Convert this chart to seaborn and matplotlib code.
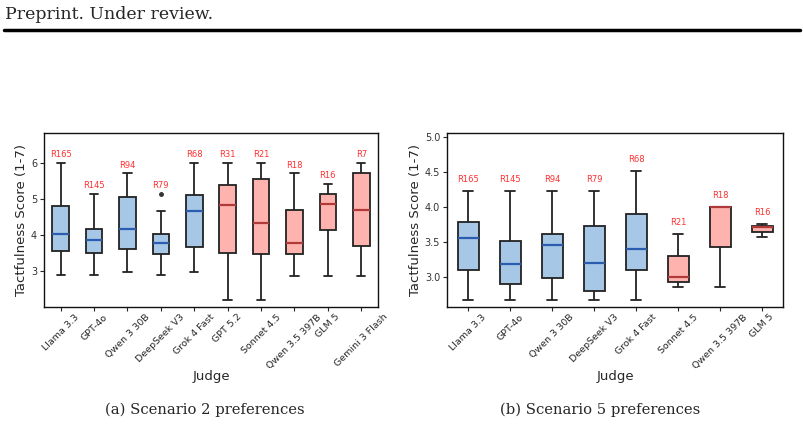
import pandas as pd
import matplotlib.pyplot as plt
import seaborn as sns
from matplotlib.lines import Line2D

# Scenario 2 (left panel)
judges_a = ['Llama 3.3', 'GPT-4o', 'Qwen 3 30B', 'DeepSeek V3', 'Grok 4 Fast',
            'GPT 5.2', 'Sonnet 4.5', 'Qwen 3.5 397B', 'GLM 5', 'Gemini 3 Flash']
group_a = ['open', 'open', 'open', 'open', 'open',
           'closed', 'closed', 'closed', 'closed', 'closed']
ranks_a = ['R165', 'R145', 'R94', 'R79', 'R68', 'R31', 'R21', 'R18', 'R16', 'R7']
wlo_a = [2.88, 2.88, 2.98, 2.88, 2.98, 2.20, 2.20, 2.85, 2.85, 2.85]
q1_a = [3.56, 3.49, 3.62, 3.46, 3.65, 3.49, 3.48, 3.48, 4.13, 3.69]
med_a = [4.03, 3.85, 4.15, 3.76, 4.65, 4.82, 4.32, 3.78, 4.86, 4.69]
q3_a = [4.81, 4.15, 5.06, 4.03, 5.09, 5.38, 5.56, 4.70, 5.13, 5.72]
whi_a = [6.00, 5.13, 5.70, 4.66, 6.00, 6.00, 6.00, 5.70, 5.42, 6.00]
outliers_a = {'DeepSeek V3': [5.13]}

# Scenario 5 (right panel)
judges_b = ['Llama 3.3', 'GPT-4o', 'Qwen 3 30B', 'DeepSeek V3', 'Grok 4 Fast',
            'Sonnet 4.5', 'Qwen 3.5 397B', 'GLM 5']
group_b = ['open', 'open', 'open', 'open', 'open', 'closed', 'closed', 'closed']
ranks_b = ['R165', 'R145', 'R94', 'R79', 'R68', 'R21', 'R18', 'R16']
wlo_b = [2.675, 2.675, 2.675, 2.675, 2.675, 2.86, 2.86, 3.57]
q1_b = [3.105, 2.90, 2.98, 2.80, 3.10, 2.93, 3.43, 3.65]
med_b = [3.56, 3.19, 3.46, 3.20, 3.40, 3.00, 4.00, 3.72]
q3_b = [3.79, 3.51, 3.61, 3.73, 3.895, 3.30, 4.00, 3.735]
whi_b = [4.225, 4.225, 4.225, 4.225, 4.51, 3.61, 4.00, 3.755]
outliers_b = {}

colors = {'open': ('#a7c7e7', '#2a5db0'), 'closed': ('#ffb3ae', '#b03a3a')}


def long_form(judges, groups, wlo, q1, med, q3, whi):
    rows = []
    for i, j in enumerate(judges):
        for v in (wlo[i], q1[i], med[i], q3[i], whi[i]):
            rows.append({'judge': j, 'group': groups[i], 'score': v})
    return pd.DataFrame(rows)


def panel(ax, judges, groups, ranks, wlo, q1, med, q3, whi, outliers, ylim, off):
    df = long_form(judges, groups, wlo, q1, med, q3, whi)
    for g in ['open', 'closed']:
        fill, mcol = colors[g]
        sns.boxplot(data=df[df['group'] == g], x='judge', y='score', order=judges,
                    color=fill, saturation=1, width=0.5, linecolor='#222222',
                    linewidth=1.3, fliersize=0,
                    medianprops=dict(color=mcol, linewidth=1.6),
                    ax=ax)
    for j, vals in outliers.items():
        ax.plot([judges.index(j)] * len(vals), vals, 'o', ms=2.5,
                color='#333333', zorder=5)
    for i, r in enumerate(ranks):
        top = max([whi[i]] + outliers.get(judges[i], []))
        ax.text(i, top + off, r, color='#ff3030', fontsize=6, ha='center', va='center')
    ax.set_ylim(*ylim)
    ax.set_xlim(-0.5, len(judges) - 0.5)
    ax.set_xlabel('Judge', fontsize=9.5, labelpad=0)
    ax.set_ylabel('Tactfulness Score (1-7)', fontsize=9.5, labelpad=2)
    ax.tick_params(axis='x', labelrotation=45, labelsize=6.8, length=3, pad=1)
    ax.tick_params(axis='y', labelsize=7, length=3, pad=2, labelcolor='#333333')
    for s in ax.spines.values():
        s.set_linewidth(1.0)
        s.set_color('#111111')


sns.set_style('ticks')
plt.rcParams['font.family'] = ['DejaVu Sans']

fig = plt.figure(figsize=(8.04, 4.28), dpi=100)
ax1 = fig.add_axes([0.0547, 0.2827, 0.4154, 0.4065])
ax2 = fig.add_axes([0.556, 0.2827, 0.418, 0.4065])

panel(ax1, judges_a, group_a, ranks_a, wlo_a, q1_a, med_a, q3_a, whi_a,
      outliers_a, (2.0, 6.82), 0.23)
panel(ax2, judges_b, group_b, ranks_b, wlo_b, q1_b, med_b, q3_b, whi_b,
      outliers_b, (2.57, 5.06), 0.165)
ax1.set_yticks([3, 4, 5, 6])
ax2.set_yticks([3.0, 3.5, 4.0, 4.5, 5.0])

serif = ['DejaVu Serif']
fig.text(0.006, 0.967, 'Preprint. Under review.', family=serif, fontsize=12.5,
         ha='left', va='center')
fig.add_artist(Line2D([0.005, 0.995], [0.93, 0.93], color='black', lw=2.5,
                      transform=fig.transFigure))
fig.text(205 / 804, 1 - 410 / 428, '(a) Scenario 2 preferences', family=serif,
         fontsize=10.6, ha='center', va='center')
fig.text(600 / 804, 1 - 410 / 428, '(b) Scenario 5 preferences', family=serif,
         fontsize=10.6, ha='center', va='center')

fig.savefig('out.png', dpi=100)
